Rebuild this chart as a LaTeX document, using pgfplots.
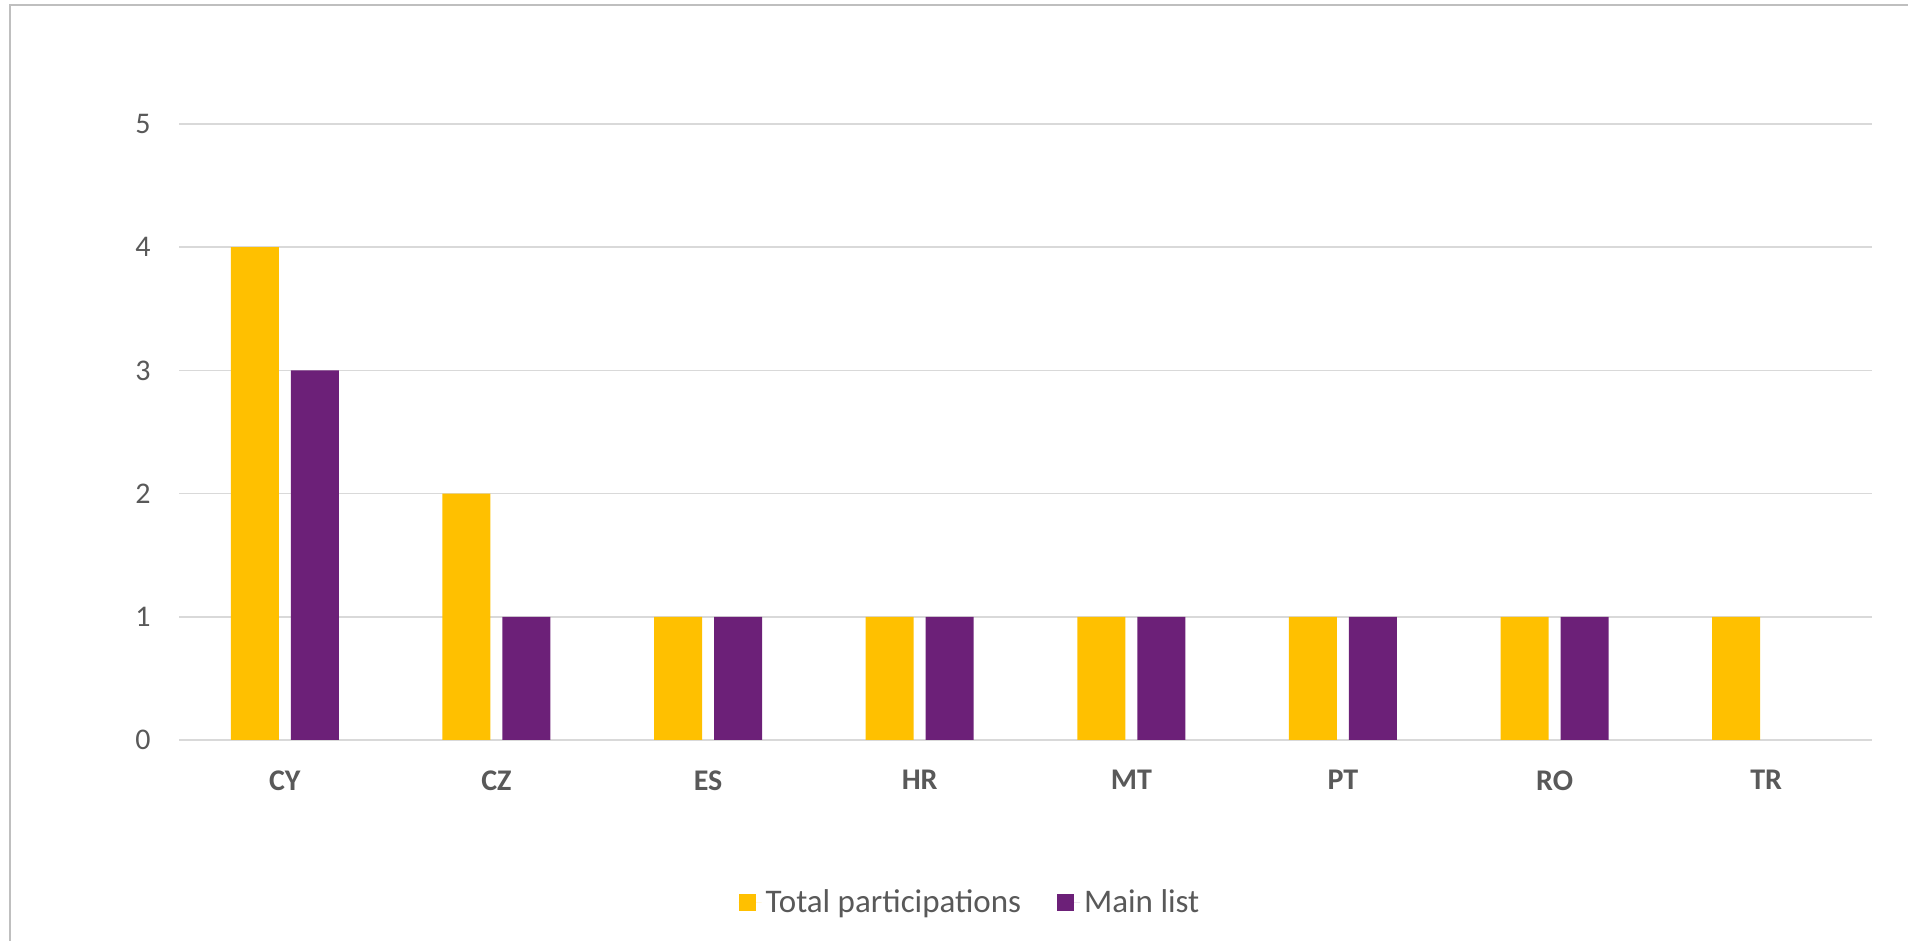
\documentclass[border=0pt]{standalone}
\usepackage{fontspec}
\setmainfont{Carlito}
\usepackage{pgfplots}
\pgfplotsset{compat=1.18}
\definecolor{cyel}{HTML}{FFC000}
\definecolor{cpur}{HTML}{6C2078}
\definecolor{ctxt}{HTML}{595959}
\definecolor{cgrid}{HTML}{D9D9D9}
\definecolor{cframe}{HTML}{BFBFBF}
\begin{document}
\begin{tikzpicture}[x=1bp,y=1bp]
\useasboundingbox (0,0) rectangle (954,470.5);
\draw[cframe,line width=1bp] (5,0) -- (5,468) -- (954,468);
\begin{axis}[at={(89.5bp,100.5bp)},anchor=south west,scale only axis,
  width=846.5bp,height=308bp,xmin=-0.5,xmax=7.5,ymin=0,ymax=5,
  ybar,bar width=24bp,
  axis line style={draw=none},major tick length=0pt,
  xtick={0,...,7},xticklabels={CY,CZ,ES,HR,MT,PT,RO,TR},
  ytick={0,...,5},
  ymajorgrids,grid style={cgrid,line width=0.75bp},
  tick label style={font=\fontsize{15bp}{18bp}\selectfont,text=ctxt},
  x tick label style={font=\fontsize{15bp}{18bp}\selectfont\bfseries,anchor=north,inner sep=0pt,yshift=-15bp},
  y tick label style={anchor=east,inner sep=0pt,xshift=-14bp},
  /pgf/number format/assume math mode=true,
  legend columns=-1,
  legend style={draw=none,at={(0.4678,-0.2646)},anchor=center,
    font=\fontsize{16.5bp}{19bp}\selectfont,text=ctxt,
    /tikz/every even column/.append style={column sep=16bp}},
  legend image code/.code={\fill[#1] (0bp,-4.25bp) rectangle (8.5bp,4.25bp);
    \path (0bp,0bp) -- (11.5bp,0bp);},
  ]
\addplot[fill=cyel,draw=none,bar shift=-15bp] coordinates {(0,4) (1,2) (2,1) (3,1) (4,1) (5,1) (6,1) (7,1)};
\addplot[fill=cpur,draw=none,bar shift=15bp] coordinates {(0,3) (1,1) (2,1) (3,1) (4,1) (5,1) (6,1)};
\legend{Total participations,Main list}
\end{axis}
\end{tikzpicture}
\end{document}
